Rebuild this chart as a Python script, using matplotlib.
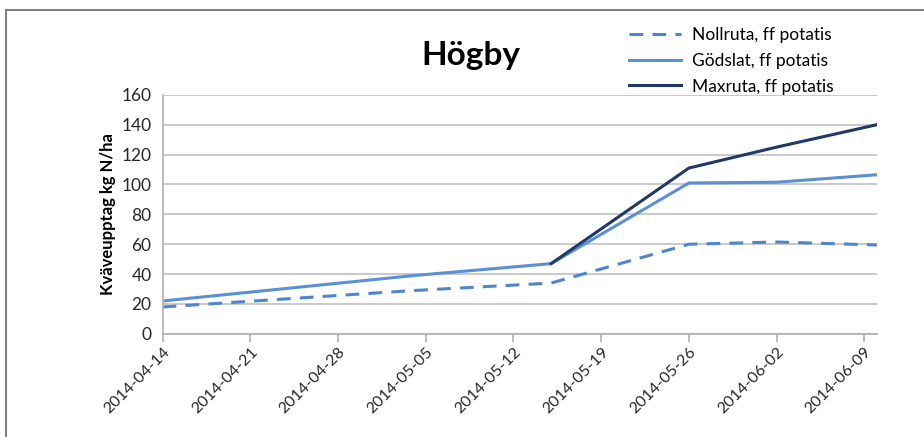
import datetime as dt
import matplotlib
matplotlib.use("Agg")
import matplotlib.pyplot as plt
import matplotlib.dates as mdates
from matplotlib.lines import Line2D

# Kväveupptag per provtagningsdatum
dates_noll = ["2014-04-14", "2014-05-04", "2014-05-15", "2014-05-26", "2014-06-02", "2014-06-10"]
noll = [18, 29, 34, 60, 61.5, 59.5]

dates_godslat = ["2014-04-14", "2014-05-04", "2014-05-15", "2014-05-26", "2014-06-02", "2014-06-10"]
godslat = [22, 39, 47, 101, 101.5, 106.5]

dates_max = ["2014-05-15", "2014-05-26", "2014-06-02", "2014-06-10"]
maxruta = [47, 111, 125, 140]

tick_dates = ["2014-04-14", "2014-04-21", "2014-04-28", "2014-05-05", "2014-05-12",
              "2014-05-19", "2014-05-26", "2014-06-02", "2014-06-09"]


def to_dt(values):
    return [dt.datetime.strptime(v, "%Y-%m-%d") for v in values]


plt.rcParams['font.family'] = ['Lato', 'DejaVu Sans']

fig = plt.figure(figsize=(9.24, 4.37), dpi=100)
ax = fig.add_axes([0.176, 0.236, 0.773, 0.547])

ax.plot(to_dt(dates_noll), noll, color='#4f85cf', lw=2.2, linestyle=(0, (4.5, 3)),
        label='Nollruta, ff potatis')
ax.plot(to_dt(dates_godslat), godslat, color='#5b8fd6', lw=2.2,
        label='Gödslat, ff potatis')
ax.plot(to_dt(dates_max), maxruta, color='#1f3a66', lw=2.2,
        label='Maxruta, ff potatis')

ax.set_ylim(0, 160)
ax.set_yticks(range(0, 161, 20))
ax.set_xlim(dt.datetime(2014, 4, 14), dt.datetime(2014, 6, 10))
ax.set_xticks(to_dt(tick_dates))
ax.xaxis.set_major_formatter(mdates.DateFormatter('%Y-%m-%d'))

ax.grid(axis='y', color='#c0c0c0', lw=1.2)
ax.set_axisbelow(True)
for side in ['top', 'right']:
    ax.spines[side].set_visible(False)
for side in ['left', 'bottom']:
    ax.spines[side].set_color('#b0b0b0')
    ax.spines[side].set_linewidth(1.2)

ax.tick_params(axis='y', length=0, labelsize=12.5, labelcolor='#262626', pad=8)
ax.tick_params(axis='x', length=6, color='#b0b0b0', width=1.2, direction='out',
               labelsize=11.5, labelcolor='#262626', pad=2)
plt.setp(ax.get_xticklabels(), rotation=45, ha='right', rotation_mode='anchor')

ax.set_ylabel('Kväveupptag kg N/ha', fontsize=12, fontweight='bold', labelpad=4)

fig.text(0.51, 0.872, 'Högby', fontsize=24, fontweight='bold', ha='center', va='center')

fig.legend(loc='upper left', bbox_to_anchor=(0.668, 0.965), frameon=False,
           fontsize=12.5, handlelength=3.0, handletextpad=0.6, labelspacing=0.55,
           borderpad=0.2)

# ram runt diagrammet (övre och vänstra kanten)
fig.add_artist(Line2D([0.006, 1.0], [0.977, 0.977], color='#7f7f7f', lw=1.5))
fig.add_artist(Line2D([0.006, 0.006], [0.0, 0.977], color='#7f7f7f', lw=1.5))

fig.savefig('out.png', dpi=100)
